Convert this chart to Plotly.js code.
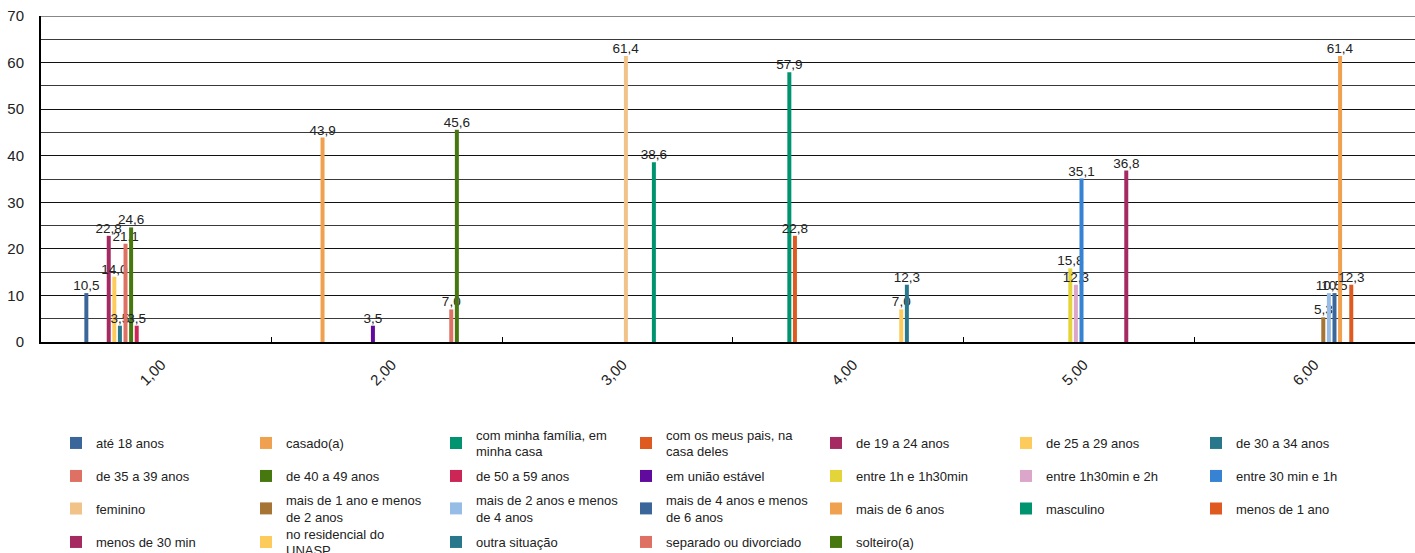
<!DOCTYPE html>
<html>
<head>
<meta charset="utf-8">
<script src="https://cdn.plot.ly/plotly-3.0.1.min.js"></script>
<style>html,body{margin:0;padding:0;background:#fff;}#chart{width:1415px;height:553px;}</style>
</head>
<body>
<div id="chart"></div>
<script>
const categories = ['1,00', '2,00', '3,00', '4,00', '5,00', '6,00'];

const seriesNames = [
  'até 18 anos', 'casado(a)', 'com minha família, em<br>minha casa', 'com os meus pais, na<br>casa deles',
  'de 19 a 24 anos', 'de 25 a 29 anos', 'de 30 a 34 anos',
  'de 35 a 39 anos', 'de 40 a 49 anos', 'de 50 a 59 anos', 'em união estável',
  'entre 1h e 1h30min', 'entre 1h30min e 2h', 'entre 30 min e 1h',
  'feminino', 'mais de 1 ano e menos<br>de 2 anos', 'mais de 2 anos e menos<br>de 4 anos', 'mais de 4 anos e menos<br>de 6 anos',
  'mais de 6 anos', 'masculino', 'menos de 1 ano',
  'menos de 30 min', 'no residencial do<br>UNASP', 'outra situação', 'separado ou divorciado', 'solteiro(a)'
];

const seriesColors = [
  '#3B6699', '#F0A150', '#009370', '#DF5A20', '#A42A61', '#FDCB5B', '#29778B',
  '#DE7164', '#46780F', '#CC2657', '#600A9E', '#E3D43A', '#DBA6C9', '#3583D2',
  '#F2C388', '#A67535', '#97BDE6', '#3B6699', '#F0A150', '#009370', '#DF5A20',
  '#A42A61', '#FDCB5B', '#29778B', '#DE7164', '#46780F'
];

// values per series across the 6 categories (null = no bar)
const ate18 =          [10.5, null, null, null, null, null];
const casado =         [null, 43.9, null, null, null, null];
const comFamilia =     [null, null, null, 57.9, null, null];
const comPais =        [null, null, null, 22.8, null, null];
const de19a24 =        [22.8, null, null, null, null, null];
const de25a29 =        [14.0, null, null, null, null, null];
const de30a34 =        [3.5, null, null, null, null, null];
const de35a39 =        [21.1, null, null, null, null, null];
const de40a49 =        [24.6, null, null, null, null, null];
const de50a59 =        [3.5, null, null, null, null, null];
const uniaoEstavel =   [null, 3.5, null, null, null, null];
const entre1hE1h30 =   [null, null, null, null, 15.8, null];
const entre1h30E2h =   [null, null, null, null, 12.3, null];
const entre30minE1h =  [null, null, null, null, 35.1, null];
const feminino =       [null, null, 61.4, null, null, null];
const mais1a2 =        [null, null, null, null, null, 5.3];
const mais2a4 =        [null, null, null, null, null, 10.5];
const mais4a6 =        [null, null, null, null, null, 10.5];
const mais6 =          [null, null, null, null, null, 61.4];
const masculino =      [null, null, 38.6, null, null, null];
const menos1ano =      [null, null, null, null, null, 12.3];
const menos30min =     [null, null, null, null, 36.8, null];
const residencial =    [null, null, null, 7.0, null, null];
const outraSituacao =  [null, null, null, 12.3, null, null];
const separado =       [null, 7.0, null, null, null, null];
const solteiro =       [null, 45.6, null, null, null, null];

const seriesValues = [
  ate18, casado, comFamilia, comPais, de19a24, de25a29, de30a34,
  de35a39, de40a49, de50a59, uniaoEstavel, entre1hE1h30, entre1h30E2h, entre30minE1h,
  feminino, mais1a2, mais2a4, mais4a6, mais6, masculino, menos1ano,
  menos30min, residencial, outraSituacao, separado, solteiro
];

const yMax = 70;

const fmt = v => (v == null ? '' : v.toFixed(1).replace('.', ','));

const W = 1415, H = 553;
const legendCols = 7;
const legendColX = [56, 246, 436, 626, 816, 1006, 1196];
const legendRowY = [443, 476, 508.5, 542];

const traces = [];
const layout = {
  width: W, height: H,
  margin: {l: 41, r: 0, t: 16, b: 211, pad: 0, autoexpand: false},
  paper_bgcolor: '#fff', plot_bgcolor: '#fff',
  barmode: 'group', bargap: 0.369, bargroupgap: 0.286,
  separators: ',.',
  font: {family: 'Liberation Sans, Arial, sans-serif', color: '#222'},
  showlegend: true,
  xaxis: {
    type: 'category', categoryorder: 'array', categoryarray: categories,
    range: [-0.5, -0.5 + 1374 / 230.6],
    tickson: 'boundaries', ticks: 'inside', ticklen: 5, tickcolor: '#000', tickwidth: 1,
    tickangle: -45, tickfont: {size: 15, color: '#222'},
    ticklabelstandoff: 6, ticklabelshift: 5,
    showgrid: false, zeroline: false,
    showline: true, linecolor: '#000', linewidth: 2
  },
  yaxis: {
    range: [0, yMax], tick0: 0, dtick: 10,
    showgrid: true, gridcolor: '#111', gridwidth: 1,
    minor: {dtick: 5, showgrid: true, gridcolor: '#3a3a3a', gridwidth: 1},
    showline: true, linecolor: '#000', linewidth: 2,
    zeroline: false, ticks: '', ticklabelstandoff: 12,
    tickfont: {size: 15, color: '#222'}
  },
  shapes: [{
    type: 'line', xref: 'paper', x0: 0, x1: 1, yref: 'y', y0: yMax, y1: yMax,
    line: {color: '#111', width: 1}, layer: 'below'
  }]
};

seriesNames.forEach((name, i) => {
  const id = i === 0 ? 'legend' : 'legend' + (i + 1);
  const vals = seriesValues[i];
  traces.push({
    type: 'bar', name: name, x: categories, y: vals,
    text: vals.map(fmt), textposition: 'outside', constraintext: 'none',
    cliponaxis: false, textfont: {size: 13.5, color: '#222'},
    marker: {color: seriesColors[i], line: {width: 0}},
    legend: id, hoverinfo: 'skip'
  });
  const col = i % legendCols, row = Math.floor(i / legendCols);
  layout[id] = {
    xref: 'container', yref: 'container',
    x: legendColX[col] / W, y: 1 - legendRowY[row] / H,
    xanchor: 'left', yanchor: 'middle',
    orientation: 'v', bgcolor: 'rgba(0,0,0,0)', borderwidth: 0,
    font: {size: 13, color: '#222'}, itemwidth: 30, tracegroupgap: 0
  };
});

Plotly.newPlot('chart', traces, layout, {staticPlot: true, displayModeBar: false});
</script>
</body>
</html>
